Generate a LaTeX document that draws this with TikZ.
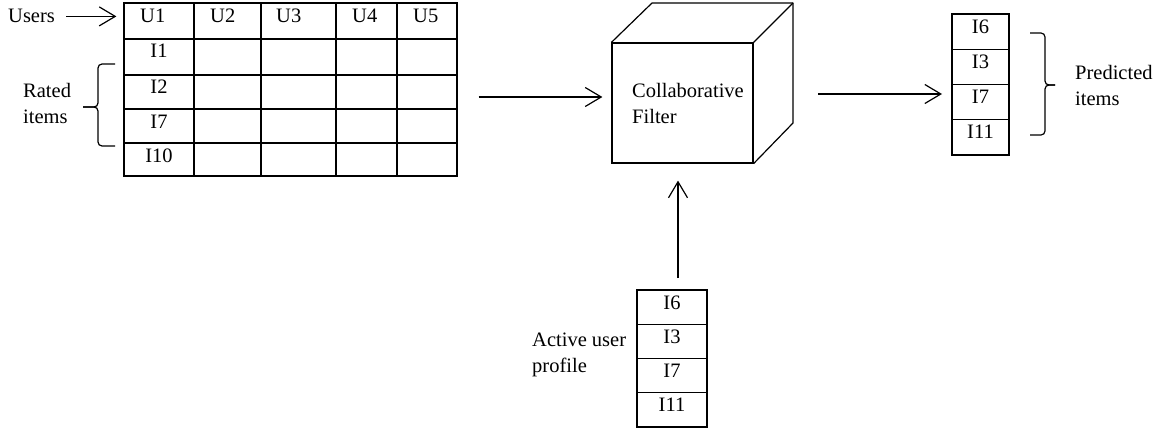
\documentclass[tikz,border=0pt]{standalone}
\usepackage{fontspec}
\setmainfont{Liberation Serif}
\usetikzlibrary{arrows.meta,calc}

\tikzset{
  txt/.style={font=\fontsize{20.5}{26}\selectfont, inner sep=0pt},
  lbl/.style={txt, align=left, anchor=base west},
  ln/.style={line width=1.2pt, black},
  arr/.style={ln, -{Straight Barb[length=16pt,width=19pt]}},
  brace/.style={ln, rounded corners=4pt},
  pcell/.style={txt, draw, line width=1.2pt, outer sep=0pt, minimum width=57pt,
    text height=19pt, text depth=16.25pt, anchor=north},
  acell/.style={pcell, minimum width=70pt, text depth=15.25pt},
}

\begin{document}
\begin{tikzpicture}[x=1pt,y=-1pt]
\useasboundingbox (0,0) rectangle (1168,431);

% ---- user/item rating table ----
\node[ln, draw, minimum width=333pt, minimum height=173pt, inner sep=0pt]
  (tbl) at (290.5,89.5) {};
\foreach \cx in {194,261,336,397}
  \draw[ln] (\cx,3) -- (\cx,176);
\foreach \ry in {39,75,109,143}
  \draw[ln] (124,\ry) -- (457,\ry);

\node[txt, anchor=base west] (u1) at (140,22) {U1};
\node[txt, anchor=base west] (u2) at (210,22) {U2};
\node[txt, anchor=base west] (u3) at (276,22) {U3};
\node[txt, anchor=base west] (u4) at (352,22) {U4};
\node[txt, anchor=base west] (u5) at (413,22) {U5};
\node[txt, anchor=base] (i1) at (159,57) {I1};
\node[txt, anchor=base] (i2) at (159,93) {I2};
\node[txt, anchor=base] (i7) at (159,128) {I7};
\node[txt, anchor=base] (i10) at (159,162) {I10};

\node[txt, anchor=base west] (users) at (8,23) {Users};
\draw[arr, shorten <=11pt, shorten >=7pt] (users.east) -- (users.east -| tbl.west);

% anchored on the baseline of the second line
\node[lbl] (rated) at (23,123) {Rated\\items};
\draw[brace] (115,64) -- (98,64) -- (98,107) -- (83,107);
\draw[brace] (83,107) -- (98,107) -- (98,146) -- (115,146);

% ---- collaborative filter cube ----
\node[ln, draw, minimum width=141pt, minimum height=120pt, inner sep=0pt]
  (cf) at (682.5,103) {};
\coordinate (cbtl) at (652,3);
\coordinate (cbtr) at (793,3);
\coordinate (cbbr) at (793,123);
\draw[ln, line join=round] (cf.north west) -- (cbtl) -- (cbtr) -- (cbbr) -- (cf.south east);
\draw[ln] (cf.north east) -- (cbtr);
\node[lbl] (cftext) at (632,123) {Collaborative\\Filter};

\coordinate (inrow) at (0,97);
\draw[arr, shorten <=21pt, shorten >=9pt] (inrow -| tbl.east) -- (inrow -| cf.west);

% ---- predicted items ----
\node[pcell] (p1) at (980.5,14) {I6};
\node[pcell] (p2) at (p1.south) {I3};
\node[pcell] (p3) at (p2.south) {I7};
\node[pcell] (p4) at (p3.south) {I11};

\coordinate (outrow) at (0,94);
\draw[arr, shorten <=25pt, shorten >=10pt] (outrow -| cbtr) -- (outrow -| p1.west);

\draw[brace] (1030,33) -- (1045,33) -- (1045,85) -- (1055,85);
\draw[brace] (1055,85) -- (1045,85) -- (1045,135) -- (1030,135);
\node[lbl] (pred) at (1075,105) {Predicted\\items};

% ---- active user profile ----
\node[acell] (a1) at (672,290) {I6};
\node[acell] (a2) at (a1.south) {I3};
\node[acell] (a3) at (a2.south) {I7};
\node[acell] (a4) at (a3.south) {I11};
\node[lbl] (act) at (532,372) {Active user\\profile};

\coordinate (upcol) at (678,0);
\draw[arr, shorten <=12pt, shorten >=17pt] (upcol |- a1.north) -- (upcol |- cf.south);
\end{tikzpicture}
\end{document}
